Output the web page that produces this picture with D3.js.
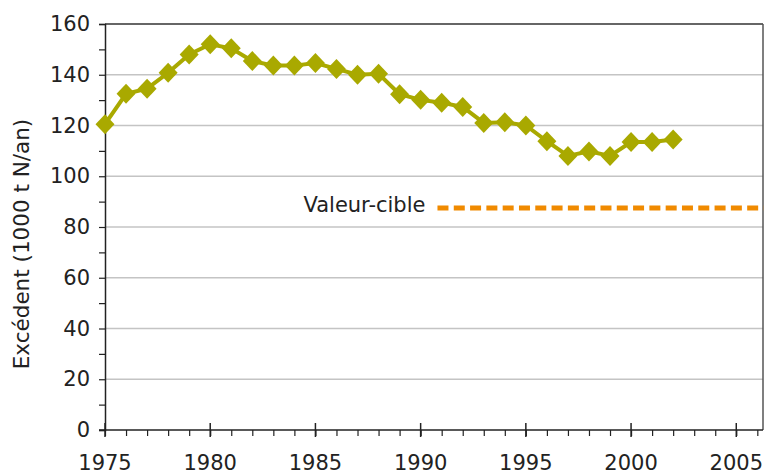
<!DOCTYPE html>
<html>
<head>
<meta charset="utf-8">
<script src="https://cdnjs.cloudflare.com/ajax/libs/d3/7.8.5/d3.min.js"></script>
<style>
  body { margin: 0; background: #fff; }
  svg text { font-family: "DejaVu Sans", sans-serif; fill: #222; }
</style>
</head>
<body>
<div id="chart"></div>
<script>
// surplus data
var years = [1975, 1976, 1977, 1978, 1979, 1980, 1981, 1982, 1983, 1984, 1985, 1986, 1987, 1988,
             1989, 1990, 1991, 1992, 1993, 1994, 1995, 1996, 1997, 1998, 1999, 2000, 2001, 2002];
var surplus = [120.5, 132.5, 134.5, 140.8, 148, 152, 150.4, 145.4, 143.6, 143.6, 144.6, 142.3, 140, 140.4,
               132.3, 130.1, 129, 127.3, 121, 121.3, 120, 113.8, 108, 109.8, 108, 113.5, 113.5, 114.5];
var targetYears = [1990.8, 2006.3];
var targetValue = [87.5, 87.5];
var yTicks = [0, 20, 40, 60, 80, 100, 120, 140, 160];
var xTicks = [1975, 1980, 1985, 1990, 1995, 2000, 2005];

var W = 766, H = 475;
var m = {left: 105, right: 3, top: 24, bottom: 45};

var svg = d3.select('#chart').append('svg')
	.attr('width', W)
	.attr('height', H);

var x = d3.scaleLinear().domain([1975, 2006.27]).range([m.left, W - m.right]);
var y = d3.scaleLinear().domain([0, 160]).range([H - m.bottom, m.top]);

// gridlines
svg.append('g').selectAll('line')
	.data(yTicks.filter(function(d){ return d > 0 && d < 160; }))
	.enter().append('line')
	.attr('x1', m.left).attr('x2', W - m.right)
	.attr('y1', function(d){ return y(d); })
	.attr('y2', function(d){ return y(d); })
	.attr('stroke', '#c4c4c4')
	.attr('stroke-width', 1.5);

// frame top + right
svg.append('line')
	.attr('x1', m.left).attr('x2', W - m.right)
	.attr('y1', m.top).attr('y2', m.top)
	.attr('stroke', '#333').attr('stroke-width', 1.5);
svg.append('line')
	.attr('x1', W - m.right).attr('x2', W - m.right)
	.attr('y1', m.top).attr('y2', H - m.bottom)
	.attr('stroke', '#555').attr('stroke-width', 1.5);

// y axis
var yAxis = svg.append('g')
	.attr('transform', 'translate(' + m.left + ',0)')
	.call(d3.axisLeft(y).tickValues(d3.range(0, 161, 10)).tickSize(6)
		.tickFormat(function(d){ return d % 20 == 0 ? d : ''; }));
yAxis.select('.domain').attr('stroke', '#222').attr('stroke-width', 1.5);
yAxis.selectAll('.tick line').attr('stroke', '#222').attr('stroke-width', 1.2);
yAxis.selectAll('.tick text').attr('font-size', '21px').attr('x', -15).attr('fill', '#222')
	.attr('font-family', '"DejaVu Sans", sans-serif');

// x axis: minor ticks below, major ticks crossing
var xAxis = svg.append('g')
	.attr('transform', 'translate(0,' + (H - m.bottom) + ')')
	.call(d3.axisBottom(x).tickValues(d3.range(1975, 2007, 1)).tickSize(6).tickFormat(''));
xAxis.select('.domain').remove();
xAxis.selectAll('.tick line').attr('stroke', '#222').attr('stroke-width', 1.2);
svg.append('line')
	.attr('x1', m.left - 6).attr('x2', W - m.right)
	.attr('y1', H - m.bottom).attr('y2', H - m.bottom)
	.attr('stroke', '#222').attr('stroke-width', 1.5);

svg.append('g').selectAll('line')
	.data(xTicks).enter().append('line')
	.attr('x1', function(d){ return x(d); })
	.attr('x2', function(d){ return x(d); })
	.attr('y1', H - m.bottom - 7)
	.attr('y2', H - m.bottom + 7)
	.attr('stroke', '#222').attr('stroke-width', 1.5);

svg.append('g').selectAll('text')
	.data(xTicks).enter().append('text')
	.attr('x', function(d){ return x(d); })
	.attr('y', H - m.bottom + 40)
	.attr('text-anchor', 'middle')
	.attr('font-size', '21px')
	.text(function(d){ return d; });

// y label
svg.append('text')
	.attr('transform', 'translate(29,' + ((m.top + H - m.bottom) / 2 + 17) + ') rotate(-90)')
	.attr('text-anchor', 'middle')
	.attr('font-size', '21.5px')
	.text('Excédent (1000 t N/an)');

// target line
svg.append('line')
	.attr('x1', x(targetYears[0])).attr('x2', x(targetYears[1]))
	.attr('y1', y(targetValue[0])).attr('y2', y(targetValue[1]))
	.attr('stroke', '#f08a00')
	.attr('stroke-width', 5)
	.attr('stroke-dasharray', '11,5.3');

svg.append('text')
	.attr('x', x(targetYears[0]) - 12)
	.attr('y', y(targetValue[0]) + 4)
	.attr('text-anchor', 'end')
	.attr('font-size', '21px')
	.text('Valeur-cible');

// surplus line
var pts = years.map(function(d, i){ return [d, surplus[i]]; });
svg.append('path')
	.datum(pts)
	.attr('fill', 'none')
	.attr('stroke', '#a9a900')
	.attr('stroke-width', 4)
	.attr('d', d3.line().x(function(d){ return x(d[0]); }).y(function(d){ return y(d[1]); }));

svg.append('g').selectAll('path')
	.data(pts).enter().append('path')
	.attr('transform', function(d){ return 'translate(' + x(d[0]) + ',' + y(d[1]) + ')'; })
	.attr('d', 'M0,-10L9.5,0L0,10L-9.5,0Z')
	.attr('fill', '#a9a900');
</script>
</body>
</html>
